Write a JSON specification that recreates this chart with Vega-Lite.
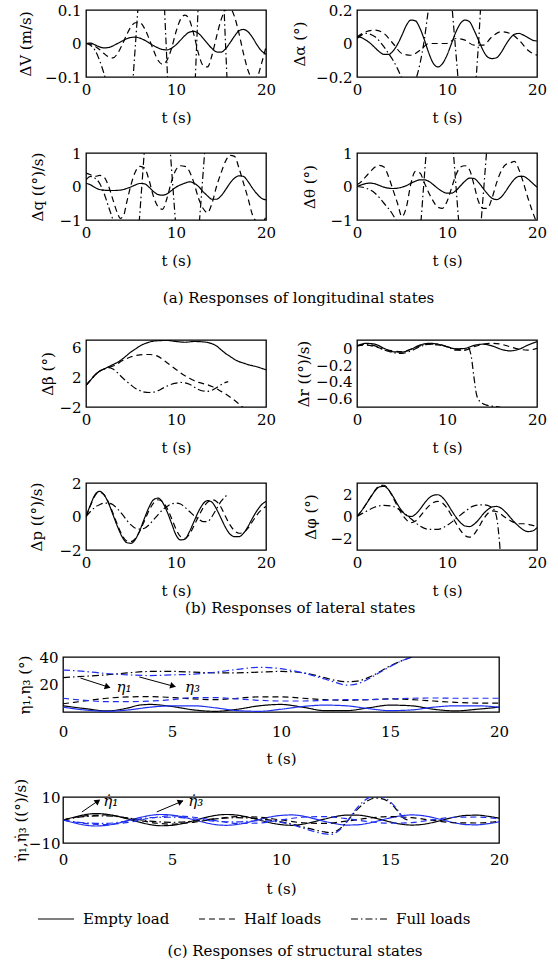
{
"$schema": "https://vega.github.io/schema/vega-lite/v6.json",
"padding": {"left": 12, "top": 2, "right": 0, "bottom": 0},
"background": "white",
"config": {
 "font": "DejaVu Serif",
 "view": {"stroke": "black", "strokeWidth": 1.3},
 "axis": {"grid": false, "domain": false, "ticks": false, "labelFont": "DejaVu Serif", "labelFontSize": 15, "labelColor": "black", "titleFont": "DejaVu Serif", "titleFontSize": 15, "titleFontWeight": "normal", "titleColor": "black", "labelPadding": 5, "format": "~r"},
 "axisX": {"titlePadding": 13, "labelFlush": false},
 "axisY": {"titlePadding": 10},
 "line": {"strokeWidth": 1.2, "interpolate": "monotone"},
 "title": {"font": "DejaVu Serif", "fontSize": 15, "fontWeight": "normal", "color": "black"},
 "legend": {"orient": "none", "legendX": -49, "legendY": 890, "direction": "horizontal", "symbolType": "stroke", "symbolSize": 1300, "symbolStrokeWidth": 1.3, "symbolStrokeColor": "black", "labelFont": "DejaVu Serif", "labelFontSize": 15, "labelColor": "black", "labelOffset": 8, "columnPadding": 26}
},
"datasets": {
"dV": [
{"s":"E","t":0,"v":0},{"s":"E","t":0.5,"v":0.001},{"s":"E","t":1,"v":-0.004},{"s":"E","t":1.5,"v":-0.01},{"s":"E","t":2,"v":-0.013},{"s":"E","t":2.5,"v":-0.012},{"s":"E","t":3,"v":-0.007},{"s":"E","t":3.5,"v":0},{"s":"E","t":4,"v":0.007},{"s":"E","t":4.5,"v":0.014},{"s":"E","t":5,"v":0.018},{"s":"E","t":5.5,"v":0.019},{"s":"E","t":6,"v":0.016},{"s":"E","t":6.5,"v":0.01},{"s":"E","t":7,"v":0.002},{"s":"E","t":7.5,"v":-0.006},{"s":"E","t":8,"v":-0.013},{"s":"E","t":8.5,"v":-0.018},{"s":"E","t":9,"v":-0.019},{"s":"E","t":9.5,"v":-0.014},{"s":"E","t":10,"v":-0.004},{"s":"E","t":10.5,"v":0.01},{"s":"E","t":11,"v":0.024},{"s":"E","t":11.5,"v":0.034},{"s":"E","t":12,"v":0.036},{"s":"E","t":12.5,"v":0.03},{"s":"E","t":13,"v":0.016},{"s":"E","t":13.5,"v":0},{"s":"E","t":14,"v":-0.015},{"s":"E","t":14.5,"v":-0.025},{"s":"E","t":15,"v":-0.026},{"s":"E","t":15.5,"v":-0.016},{"s":"E","t":16,"v":0.002},{"s":"E","t":16.5,"v":0.022},{"s":"E","t":17,"v":0.038},{"s":"E","t":17.5,"v":0.042},{"s":"E","t":18,"v":0.035},{"s":"E","t":18.5,"v":0.018},{"s":"E","t":19,"v":-0.004},{"s":"E","t":19.5,"v":-0.022},{"s":"E","t":20,"v":-0.032},
{"s":"H","t":0,"v":0},{"s":"H","t":0.5,"v":-0.002},{"s":"H","t":1,"v":-0.008},{"s":"H","t":1.5,"v":-0.018},{"s":"H","t":2,"v":-0.03},{"s":"H","t":2.5,"v":-0.04},{"s":"H","t":3,"v":-0.043},{"s":"H","t":3.5,"v":-0.03},{"s":"H","t":4,"v":-0.005},{"s":"H","t":4.5,"v":0.025},{"s":"H","t":5,"v":0.05},{"s":"H","t":5.5,"v":0.062},{"s":"H","t":6,"v":0.062},{"s":"H","t":6.5,"v":0.045},{"s":"H","t":7,"v":0.015},{"s":"H","t":7.5,"v":-0.02},{"s":"H","t":8,"v":-0.05},{"s":"H","t":8.5,"v":-0.062},{"s":"H","t":9,"v":-0.05},{"s":"H","t":9.5,"v":-0.015},{"s":"H","t":10,"v":0.035},{"s":"H","t":10.5,"v":0.072},{"s":"H","t":11,"v":0.085},{"s":"H","t":11.5,"v":0.07},{"s":"H","t":12,"v":0.025},{"s":"H","t":12.5,"v":-0.03},{"s":"H","t":13,"v":-0.065},{"s":"H","t":13.5,"v":-0.07},{"s":"H","t":14,"v":-0.035},{"s":"H","t":14.5,"v":0.02},{"s":"H","t":15,"v":0.07},{"s":"H","t":15.5,"v":0.1},{"s":"H","t":16,"v":0.105},{"s":"H","t":16.5,"v":0.08},{"s":"H","t":17,"v":0.03},{"s":"H","t":17.5,"v":-0.03},{"s":"H","t":18,"v":-0.08},{"s":"H","t":18.5,"v":-0.105},{"s":"H","t":19,"v":-0.1},{"s":"H","t":19.5,"v":-0.06},{"s":"H","t":20,"v":-0.01},
{"s":"F","t":0,"v":0},{"s":"F","t":0.5,"v":-0.005},{"s":"F","t":1,"v":-0.02},{"s":"F","t":1.5,"v":-0.05},{"s":"F","t":2,"v":-0.09},{"s":"F","t":2.5,"v":-0.14},{"s":"F","t":3,"v":-0.2},{"s":"F","t":4,"v":-0.3},{"s":"F","t":4.6,"v":-0.3},{"s":"F","t":5.1,"v":-0.15},{"s":"F","t":5.5,"v":0},{"s":"F","t":5.9,"v":0.15},{"s":"F","t":6.5,"v":0.3},{"s":"F","t":7.5,"v":0.35},{"s":"F","t":8.4,"v":0.25},{"s":"F","t":8.9,"v":0},{"s":"F","t":9.3,"v":-0.25},{"s":"F","t":10,"v":-0.4},{"s":"F","t":11,"v":-0.45},{"s":"F","t":11.9,"v":-0.25},{"s":"F","t":12.3,"v":0},{"s":"F","t":12.6,"v":0.2},{"s":"F","t":13.5,"v":0.45},{"s":"F","t":14.5,"v":0.45},{"s":"F","t":15.1,"v":0.25},{"s":"F","t":15.5,"v":0},{"s":"F","t":15.9,"v":-0.25},{"s":"F","t":16.5,"v":-0.6}
],
"da": [
{"s":"E","t":0,"v":0.04},{"s":"E","t":0.5,"v":0.035},{"s":"E","t":1,"v":0.02},{"s":"E","t":1.5,"v":0},{"s":"E","t":2,"v":-0.025},{"s":"E","t":2.5,"v":-0.05},{"s":"E","t":3,"v":-0.065},{"s":"E","t":3.5,"v":-0.065},{"s":"E","t":4,"v":-0.045},{"s":"E","t":4.5,"v":-0.005},{"s":"E","t":5,"v":0.05},{"s":"E","t":5.5,"v":0.11},{"s":"E","t":6,"v":0.14},{"s":"E","t":6.5,"v":0.135},{"s":"E","t":7,"v":0.09},{"s":"E","t":7.5,"v":0.02},{"s":"E","t":8,"v":-0.06},{"s":"E","t":8.5,"v":-0.12},{"s":"E","t":9,"v":-0.14},{"s":"E","t":9.5,"v":-0.12},{"s":"E","t":10,"v":-0.07},{"s":"E","t":10.5,"v":0},{"s":"E","t":11,"v":0.07},{"s":"E","t":11.5,"v":0.12},{"s":"E","t":12,"v":0.14},{"s":"E","t":12.5,"v":0.13},{"s":"E","t":13,"v":0.08},{"s":"E","t":13.5,"v":0.02},{"s":"E","t":14,"v":-0.04},{"s":"E","t":14.5,"v":-0.08},{"s":"E","t":15,"v":-0.09},{"s":"E","t":15.5,"v":-0.085},{"s":"E","t":16,"v":-0.055},{"s":"E","t":16.5,"v":-0.01},{"s":"E","t":17,"v":0.03},{"s":"E","t":17.5,"v":0.055},{"s":"E","t":18,"v":0.06},{"s":"E","t":18.5,"v":0.05},{"s":"E","t":19,"v":0.035},{"s":"E","t":19.5,"v":0.02},{"s":"E","t":20,"v":0.015},
{"s":"H","t":0,"v":0.04},{"s":"H","t":1,"v":0.07},{"s":"H","t":2,"v":0.08},{"s":"H","t":3,"v":0.06},{"s":"H","t":4,"v":0.0},{"s":"H","t":5,"v":-0.06},{"s":"H","t":6,"v":-0.07},{"s":"H","t":7,"v":-0.04},{"s":"H","t":8,"v":0.0},{"s":"H","t":9,"v":0.0},{"s":"H","t":10,"v":0.0},{"s":"H","t":11,"v":0.03},{"s":"H","t":12,"v":0.02},{"s":"H","t":13,"v":-0.01},{"s":"H","t":14,"v":-0.01},{"s":"H","t":15,"v":0.04},{"s":"H","t":16,"v":0.07},{"s":"H","t":17,"v":0.06},{"s":"H","t":18,"v":0.02},{"s":"H","t":19,"v":-0.04},{"s":"H","t":20,"v":-0.07},
{"s":"F","t":0,"v":0.03},{"s":"F","t":1,"v":0.06},{"s":"F","t":2,"v":0.04},{"s":"F","t":3,"v":-0.02},{"s":"F","t":3.5,"v":-0.06},{"s":"F","t":4,"v":-0.1},{"s":"F","t":4.5,"v":-0.15},{"s":"F","t":5,"v":-0.21},{"s":"F","t":5.5,"v":-0.27},{"s":"F","t":6,"v":-0.28},{"s":"F","t":6.5,"v":-0.22},{"s":"F","t":7,"v":-0.12},{"s":"F","t":7.5,"v":0.03},{"s":"F","t":7.8,"v":0.15},{"s":"F","t":8.2,"v":0.3},{"s":"F","t":9.5,"v":0.5},{"s":"F","t":10.4,"v":0.3},{"s":"F","t":10.9,"v":0},{"s":"F","t":11.4,"v":-0.3},{"s":"F","t":12.3,"v":-0.5},{"s":"F","t":13,"v":-0.35},{"s":"F","t":13.5,"v":0},{"s":"F","t":13.9,"v":0.35},{"s":"F","t":15,"v":0.7},{"s":"F","t":16,"v":0.8}
],
"dq": [
{"s":"E","t":0,"v":0.1},{"s":"E","t":0.5,"v":0.05},{"s":"E","t":1,"v":-0.03},{"s":"E","t":1.5,"v":-0.09},{"s":"E","t":2,"v":-0.11},{"s":"E","t":3,"v":-0.12},{"s":"E","t":4,"v":-0.1},{"s":"E","t":4.5,"v":-0.06},{"s":"E","t":5,"v":-0.01},{"s":"E","t":5.5,"v":0.05},{"s":"E","t":6,"v":0.09},{"s":"E","t":6.5,"v":0.08},{"s":"E","t":7,"v":-0.02},{"s":"E","t":7.5,"v":-0.15},{"s":"E","t":8,"v":-0.24},{"s":"E","t":8.5,"v":-0.26},{"s":"E","t":9,"v":-0.22},{"s":"E","t":9.5,"v":-0.12},{"s":"E","t":10,"v":-0.02},{"s":"E","t":10.5,"v":0.05},{"s":"E","t":11,"v":0.1},{"s":"E","t":11.5,"v":0.14},{"s":"E","t":12,"v":0.1},{"s":"E","t":12.5,"v":0},{"s":"E","t":13,"v":-0.15},{"s":"E","t":13.5,"v":-0.28},{"s":"E","t":14,"v":-0.38},{"s":"E","t":14.5,"v":-0.38},{"s":"E","t":15,"v":-0.28},{"s":"E","t":15.5,"v":-0.1},{"s":"E","t":16,"v":0.1},{"s":"E","t":16.5,"v":0.25},{"s":"E","t":17,"v":0.32},{"s":"E","t":17.5,"v":0.3},{"s":"E","t":18,"v":0.15},{"s":"E","t":18.5,"v":-0.05},{"s":"E","t":19,"v":-0.22},{"s":"E","t":19.5,"v":-0.35},{"s":"E","t":20,"v":-0.4},
{"s":"H","t":0,"v":0.4},{"s":"H","t":0.5,"v":0.35},{"s":"H","t":1,"v":0.3},{"s":"H","t":1.5,"v":0.33},{"s":"H","t":2,"v":0.28},{"s":"H","t":2.5,"v":0.02},{"s":"H","t":3,"v":-0.4},{"s":"H","t":3.5,"v":-0.8},{"s":"H","t":3.8,"v":-0.95},{"s":"H","t":4.2,"v":-0.85},{"s":"H","t":4.5,"v":-0.5},{"s":"H","t":5,"v":0.05},{"s":"H","t":5.5,"v":0.45},{"s":"H","t":6,"v":0.6},{"s":"H","t":6.5,"v":0.55},{"s":"H","t":7,"v":0.2},{"s":"H","t":7.5,"v":-0.3},{"s":"H","t":8,"v":-0.6},{"s":"H","t":8.5,"v":-0.68},{"s":"H","t":9,"v":-0.35},{"s":"H","t":9.5,"v":0.15},{"s":"H","t":10,"v":0.5},{"s":"H","t":10.5,"v":0.62},{"s":"H","t":11,"v":0.6},{"s":"H","t":11.5,"v":0.45},{"s":"H","t":12,"v":0.1},{"s":"H","t":12.5,"v":-0.35},{"s":"H","t":13,"v":-0.65},{"s":"H","t":13.5,"v":-0.78},{"s":"H","t":14,"v":-0.5},{"s":"H","t":14.5,"v":0},{"s":"H","t":15,"v":0.4},{"s":"H","t":15.5,"v":0.75},{"s":"H","t":16,"v":0.93},{"s":"H","t":16.5,"v":0.9},{"s":"H","t":17,"v":0.55},{"s":"H","t":17.5,"v":0.1},{"s":"H","t":18,"v":-0.35},{"s":"H","t":18.5,"v":-0.85},{"s":"H","t":19,"v":-1.05},{"s":"H","t":19.5,"v":-1.1},{"s":"H","t":20,"v":-0.9},
{"s":"F","t":0,"v":0.2},{"s":"F","t":0.5,"v":0.3},{"s":"F","t":1,"v":0.25},{"s":"F","t":1.5,"v":0.1},{"s":"F","t":2,"v":-0.2},{"s":"F","t":2.5,"v":-0.6},{"s":"F","t":3,"v":-1.0},{"s":"F","t":4,"v":-2},{"s":"F","t":5,"v":-2.5},{"s":"F","t":5.8,"v":-1.4},{"s":"F","t":6.2,"v":0},{"s":"F","t":6.6,"v":1.4},{"s":"F","t":7.5,"v":2.5},{"s":"F","t":8.5,"v":2.5},{"s":"F","t":9.25,"v":1.4},{"s":"F","t":9.65,"v":0},{"s":"F","t":10.05,"v":-1.4},{"s":"F","t":11,"v":-3},{"s":"F","t":12,"v":-3},{"s":"F","t":12.5,"v":-1.4},{"s":"F","t":12.9,"v":0},{"s":"F","t":13.3,"v":1.4},{"s":"F","t":14,"v":3},{"s":"F","t":15,"v":4},{"s":"F","t":16,"v":4}
],
"dth": [
{"s":"E","t":0,"v":0},{"s":"E","t":0.5,"v":0.05},{"s":"E","t":1,"v":0.09},{"s":"E","t":1.5,"v":0.1},{"s":"E","t":2,"v":0.08},{"s":"E","t":2.5,"v":0.03},{"s":"E","t":3,"v":-0.02},{"s":"E","t":3.5,"v":-0.05},{"s":"E","t":4,"v":-0.06},{"s":"E","t":4.5,"v":-0.05},{"s":"E","t":5,"v":-0.02},{"s":"E","t":5.5,"v":0.03},{"s":"E","t":6,"v":0.1},{"s":"E","t":6.5,"v":0.16},{"s":"E","t":7,"v":0.2},{"s":"E","t":7.5,"v":0.2},{"s":"E","t":8,"v":0.15},{"s":"E","t":8.5,"v":0.05},{"s":"E","t":9,"v":-0.06},{"s":"E","t":9.5,"v":-0.15},{"s":"E","t":10,"v":-0.2},{"s":"E","t":10.5,"v":-0.2},{"s":"E","t":11,"v":-0.12},{"s":"E","t":11.5,"v":0.02},{"s":"E","t":12,"v":0.16},{"s":"E","t":12.5,"v":0.25},{"s":"E","t":13,"v":0.24},{"s":"E","t":13.5,"v":0.12},{"s":"E","t":14,"v":-0.05},{"s":"E","t":14.5,"v":-0.22},{"s":"E","t":15,"v":-0.35},{"s":"E","t":15.5,"v":-0.39},{"s":"E","t":16,"v":-0.32},{"s":"E","t":16.5,"v":-0.15},{"s":"E","t":17,"v":0.05},{"s":"E","t":17.5,"v":0.22},{"s":"E","t":18,"v":0.3},{"s":"E","t":18.5,"v":0.3},{"s":"E","t":19,"v":0.22},{"s":"E","t":19.5,"v":0.1},{"s":"E","t":20,"v":-0.02},
{"s":"H","t":0,"v":0.05},{"s":"H","t":0.5,"v":0.15},{"s":"H","t":1,"v":0.3},{"s":"H","t":1.5,"v":0.45},{"s":"H","t":2,"v":0.58},{"s":"H","t":2.5,"v":0.63},{"s":"H","t":3,"v":0.58},{"s":"H","t":3.5,"v":0.3},{"s":"H","t":4,"v":-0.1},{"s":"H","t":4.5,"v":-0.5},{"s":"H","t":5,"v":-0.9},{"s":"H","t":5.5,"v":-0.6},{"s":"H","t":6,"v":0.1},{"s":"H","t":6.5,"v":0.45},{"s":"H","t":7,"v":0.4},{"s":"H","t":7.5,"v":0.1},{"s":"H","t":8,"v":-0.2},{"s":"H","t":8.5,"v":-0.45},{"s":"H","t":9,"v":-0.62},{"s":"H","t":9.5,"v":-0.65},{"s":"H","t":10,"v":-0.45},{"s":"H","t":10.5,"v":-0.05},{"s":"H","t":11,"v":0.35},{"s":"H","t":11.5,"v":0.58},{"s":"H","t":12,"v":0.62},{"s":"H","t":12.5,"v":0.5},{"s":"H","t":13,"v":0.05},{"s":"H","t":13.5,"v":-0.45},{"s":"H","t":14,"v":-0.65},{"s":"H","t":14.5,"v":-0.65},{"s":"H","t":15,"v":-0.35},{"s":"H","t":15.5,"v":0.1},{"s":"H","t":16,"v":0.45},{"s":"H","t":16.5,"v":0.65},{"s":"H","t":17,"v":0.7},{"s":"H","t":17.5,"v":0.75},{"s":"H","t":18,"v":0.5},{"s":"H","t":18.5,"v":0.1},{"s":"H","t":19,"v":-0.35},{"s":"H","t":19.5,"v":-0.75},{"s":"H","t":20,"v":-1.1},
{"s":"F","t":0,"v":0},{"s":"F","t":1,"v":-0.05},{"s":"F","t":2,"v":-0.2},{"s":"F","t":3,"v":-0.5},{"s":"F","t":4,"v":-0.85},{"s":"F","t":4.5,"v":-1.1},{"s":"F","t":5.5,"v":-2},{"s":"F","t":6.5,"v":-2},{"s":"F","t":7.05,"v":-1.2},{"s":"F","t":7.4,"v":0},{"s":"F","t":7.75,"v":1.2},{"s":"F","t":8.5,"v":2.5},{"s":"F","t":10,"v":2.5},{"s":"F","t":10.65,"v":1.2},{"s":"F","t":11,"v":0},{"s":"F","t":11.35,"v":-1.2},{"s":"F","t":12.5,"v":-3},{"s":"F","t":13.4,"v":-2.5},{"s":"F","t":13.75,"v":-1.2},{"s":"F","t":14.1,"v":0},{"s":"F","t":14.45,"v":1.2},{"s":"F","t":15.5,"v":4},{"s":"F","t":16,"v":4}
],
"db": [
{"s":"E","t":0,"v":0.9},{"s":"E","t":0.5,"v":1.6},{"s":"E","t":1,"v":2.3},{"s":"E","t":1.5,"v":2.8},{"s":"E","t":2,"v":3.1},{"s":"E","t":2.5,"v":3.4},{"s":"E","t":3,"v":3.7},{"s":"E","t":3.5,"v":4.0},{"s":"E","t":4,"v":4.4},{"s":"E","t":4.5,"v":4.9},{"s":"E","t":5,"v":5.4},{"s":"E","t":5.5,"v":5.8},{"s":"E","t":6,"v":6.2},{"s":"E","t":6.5,"v":6.5},{"s":"E","t":7,"v":6.7},{"s":"E","t":7.5,"v":6.85},{"s":"E","t":8,"v":6.9},{"s":"E","t":9,"v":6.95},{"s":"E","t":10,"v":6.8},{"s":"E","t":11,"v":6.7},{"s":"E","t":12,"v":6.8},{"s":"E","t":13,"v":6.75},{"s":"E","t":14,"v":6.5},{"s":"E","t":14.5,"v":6.2},{"s":"E","t":15,"v":5.7},{"s":"E","t":15.5,"v":5.2},{"s":"E","t":16,"v":4.8},{"s":"E","t":16.5,"v":4.4},{"s":"E","t":17,"v":4.1},{"s":"E","t":17.5,"v":3.9},{"s":"E","t":18,"v":3.7},{"s":"E","t":18.5,"v":3.55},{"s":"E","t":19,"v":3.4},{"s":"E","t":19.5,"v":3.2},{"s":"E","t":20,"v":3.0},
{"s":"H","t":0,"v":0.9},{"s":"H","t":0.5,"v":1.6},{"s":"H","t":1,"v":2.3},{"s":"H","t":1.5,"v":2.8},{"s":"H","t":2,"v":3.1},{"s":"H","t":2.5,"v":3.3},{"s":"H","t":3,"v":3.5},{"s":"H","t":3.5,"v":3.8},{"s":"H","t":4,"v":4.2},{"s":"H","t":4.5,"v":4.5},{"s":"H","t":5,"v":4.75},{"s":"H","t":5.5,"v":4.9},{"s":"H","t":6,"v":5.0},{"s":"H","t":6.5,"v":5.05},{"s":"H","t":7,"v":5.05},{"s":"H","t":7.5,"v":5.0},{"s":"H","t":8,"v":4.8},{"s":"H","t":8.5,"v":4.4},{"s":"H","t":9,"v":3.95},{"s":"H","t":9.5,"v":3.5},{"s":"H","t":10,"v":3.05},{"s":"H","t":10.5,"v":2.6},{"s":"H","t":11,"v":2.2},{"s":"H","t":11.5,"v":1.85},{"s":"H","t":12,"v":1.55},{"s":"H","t":12.5,"v":1.3},{"s":"H","t":13,"v":1.15},{"s":"H","t":13.5,"v":1.0},{"s":"H","t":14,"v":0.75},{"s":"H","t":14.5,"v":0.45},{"s":"H","t":15,"v":0.1},{"s":"H","t":15.5,"v":-0.25},{"s":"H","t":16,"v":-0.65},{"s":"H","t":16.5,"v":-1.1},{"s":"H","t":17,"v":-1.6},{"s":"H","t":17.5,"v":-2.1},{"s":"H","t":18,"v":-2.6},
{"s":"F","t":0,"v":0.9},{"s":"F","t":0.5,"v":1.6},{"s":"F","t":1,"v":2.3},{"s":"F","t":1.5,"v":2.8},{"s":"F","t":2,"v":3.1},{"s":"F","t":2.5,"v":3.3},{"s":"F","t":3,"v":3.1},{"s":"F","t":3.5,"v":2.6},{"s":"F","t":4,"v":2.0},{"s":"F","t":4.5,"v":1.45},{"s":"F","t":5,"v":0.95},{"s":"F","t":5.5,"v":0.5},{"s":"F","t":6,"v":0.2},{"s":"F","t":6.5,"v":0},{"s":"F","t":7,"v":-0.05},{"s":"F","t":7.5,"v":0},{"s":"F","t":8,"v":0.2},{"s":"F","t":8.5,"v":0.5},{"s":"F","t":9,"v":0.8},{"s":"F","t":9.5,"v":1.05},{"s":"F","t":10,"v":1.2},{"s":"F","t":10.5,"v":1.3},{"s":"F","t":11,"v":1.25},{"s":"F","t":11.5,"v":1.05},{"s":"F","t":12,"v":0.7},{"s":"F","t":12.5,"v":0.35},{"s":"F","t":13,"v":0.15},{"s":"F","t":13.5,"v":0.1},{"s":"F","t":14,"v":0.25},{"s":"F","t":14.5,"v":0.6},{"s":"F","t":15,"v":1.0},{"s":"F","t":15.5,"v":1.3},{"s":"F","t":15.8,"v":1.4}
],
"dr": [
{"s":"E","t":0,"v":0.03},{"s":"E","t":1,"v":0.06},{"s":"E","t":2,"v":0.05},{"s":"E","t":3,"v":0.0},{"s":"E","t":4,"v":-0.04},{"s":"E","t":5,"v":-0.045},{"s":"E","t":6,"v":-0.01},{"s":"E","t":7,"v":0.04},{"s":"E","t":8,"v":0.06},{"s":"E","t":9,"v":0.05},{"s":"E","t":10,"v":0.02},{"s":"E","t":11,"v":-0.005},{"s":"E","t":12,"v":0.0},{"s":"E","t":13,"v":0.035},{"s":"E","t":14,"v":0.05},{"s":"E","t":15,"v":0.03},{"s":"E","t":16,"v":-0.01},{"s":"E","t":17,"v":-0.03},{"s":"E","t":18,"v":-0.01},{"s":"E","t":19,"v":0.04},{"s":"E","t":20,"v":0.08},
{"s":"H","t":0,"v":0.03},{"s":"H","t":1,"v":0.04},{"s":"H","t":2,"v":0.02},{"s":"H","t":3,"v":-0.01},{"s":"H","t":4,"v":-0.03},{"s":"H","t":5,"v":-0.04},{"s":"H","t":6,"v":-0.01},{"s":"H","t":7,"v":0.03},{"s":"H","t":8,"v":0.05},{"s":"H","t":9,"v":0.04},{"s":"H","t":10,"v":0.02},{"s":"H","t":11,"v":-0.01},{"s":"H","t":12,"v":-0.02},{"s":"H","t":13,"v":0.02},{"s":"H","t":14,"v":0.05},{"s":"H","t":15,"v":0.06},{"s":"H","t":16,"v":0.05},{"s":"H","t":17,"v":0.02},{"s":"H","t":18,"v":-0.01},{"s":"H","t":19,"v":-0.02},{"s":"H","t":20,"v":0.0},
{"s":"F","t":0,"v":0.03},{"s":"F","t":1,"v":0.05},{"s":"F","t":2,"v":0.03},{"s":"F","t":3,"v":-0.02},{"s":"F","t":4,"v":-0.05},{"s":"F","t":5,"v":-0.06},{"s":"F","t":6,"v":-0.03},{"s":"F","t":7,"v":0.02},{"s":"F","t":8,"v":0.05},{"s":"F","t":9,"v":0.05},{"s":"F","t":10,"v":0.02},{"s":"F","t":11,"v":-0.02},{"s":"F","t":12,"v":-0.02},{"s":"F","t":12.4,"v":0.0},{"s":"F","t":12.7,"v":-0.1},{"s":"F","t":13,"v":-0.35},{"s":"F","t":13.3,"v":-0.56},{"s":"F","t":13.7,"v":-0.64},{"s":"F","t":14.2,"v":-0.67},{"s":"F","t":15,"v":-0.69},{"s":"F","t":15.9,"v":-0.7}
],
"dp": [
{"s":"E","t":0,"v":0},{"s":"E","t":0.5,"v":0.7},{"s":"E","t":1,"v":1.3},{"s":"E","t":1.5,"v":1.5},{"s":"E","t":2,"v":1.3},{"s":"E","t":2.5,"v":0.8},{"s":"E","t":3,"v":0.1},{"s":"E","t":3.5,"v":-0.6},{"s":"E","t":4,"v":-1.2},{"s":"E","t":4.5,"v":-1.55},{"s":"E","t":5,"v":-1.6},{"s":"E","t":5.5,"v":-1.35},{"s":"E","t":6,"v":-0.8},{"s":"E","t":6.5,"v":-0.1},{"s":"E","t":7,"v":0.55},{"s":"E","t":7.5,"v":1.0},{"s":"E","t":8,"v":1.1},{"s":"E","t":8.5,"v":0.85},{"s":"E","t":9,"v":0.3},{"s":"E","t":9.5,"v":-0.4},{"s":"E","t":10,"v":-1.1},{"s":"E","t":10.5,"v":-1.4},{"s":"E","t":11,"v":-1.35},{"s":"E","t":11.5,"v":-0.9},{"s":"E","t":12,"v":-0.3},{"s":"E","t":12.5,"v":0.3},{"s":"E","t":13,"v":0.75},{"s":"E","t":13.5,"v":0.95},{"s":"E","t":14,"v":0.85},{"s":"E","t":14.5,"v":0.45},{"s":"E","t":15,"v":-0.1},{"s":"E","t":15.5,"v":-0.65},{"s":"E","t":16,"v":-1.05},{"s":"E","t":16.5,"v":-1.2},{"s":"E","t":17,"v":-1.2},{"s":"E","t":17.5,"v":-1.0},{"s":"E","t":18,"v":-0.6},{"s":"E","t":18.5,"v":-0.1},{"s":"E","t":19,"v":0.35},{"s":"E","t":19.5,"v":0.7},{"s":"E","t":20,"v":0.9},
{"s":"H","t":0,"v":0},{"s":"H","t":0.5,"v":0.65},{"s":"H","t":1,"v":1.25},{"s":"H","t":1.5,"v":1.45},{"s":"H","t":2,"v":1.3},{"s":"H","t":2.5,"v":0.85},{"s":"H","t":3,"v":0.2},{"s":"H","t":3.5,"v":-0.5},{"s":"H","t":4,"v":-1.1},{"s":"H","t":4.5,"v":-1.45},{"s":"H","t":5,"v":-1.5},{"s":"H","t":5.5,"v":-1.3},{"s":"H","t":6,"v":-0.85},{"s":"H","t":6.5,"v":-0.25},{"s":"H","t":7,"v":0.35},{"s":"H","t":7.5,"v":0.8},{"s":"H","t":8,"v":1.0},{"s":"H","t":8.5,"v":0.9},{"s":"H","t":9,"v":0.5},{"s":"H","t":9.5,"v":-0.1},{"s":"H","t":10,"v":-0.75},{"s":"H","t":10.5,"v":-1.2},{"s":"H","t":11,"v":-1.3},{"s":"H","t":11.5,"v":-1.05},{"s":"H","t":12,"v":-0.55},{"s":"H","t":12.5,"v":0},{"s":"H","t":13,"v":0.5},{"s":"H","t":13.5,"v":0.85},{"s":"H","t":14,"v":1.0},{"s":"H","t":14.5,"v":0.9},{"s":"H","t":15,"v":0.55},{"s":"H","t":15.5,"v":0},{"s":"H","t":16,"v":-0.5},{"s":"H","t":16.5,"v":-0.85},{"s":"H","t":17,"v":-1.0},{"s":"H","t":17.5,"v":-0.95},{"s":"H","t":18,"v":-0.7},{"s":"H","t":18.5,"v":-0.3},{"s":"H","t":19,"v":0.1},{"s":"H","t":19.5,"v":0.4},{"s":"H","t":20,"v":0.6},
{"s":"F","t":0,"v":0},{"s":"F","t":0.5,"v":0.3},{"s":"F","t":1,"v":0.55},{"s":"F","t":1.5,"v":0.7},{"s":"F","t":2,"v":0.8},{"s":"F","t":2.5,"v":0.8},{"s":"F","t":3,"v":0.7},{"s":"F","t":3.5,"v":0.45},{"s":"F","t":4,"v":0.15},{"s":"F","t":4.5,"v":-0.2},{"s":"F","t":5,"v":-0.5},{"s":"F","t":5.5,"v":-0.7},{"s":"F","t":6,"v":-0.75},{"s":"F","t":6.5,"v":-0.7},{"s":"F","t":7,"v":-0.5},{"s":"F","t":7.5,"v":-0.2},{"s":"F","t":8,"v":0.1},{"s":"F","t":8.5,"v":0.4},{"s":"F","t":9,"v":0.6},{"s":"F","t":9.5,"v":0.75},{"s":"F","t":10,"v":0.8},{"s":"F","t":10.5,"v":0.75},{"s":"F","t":11,"v":0.55},{"s":"F","t":11.5,"v":0.3},{"s":"F","t":12,"v":0.05},{"s":"F","t":12.5,"v":-0.15},{"s":"F","t":13,"v":-0.3},{"s":"F","t":13.5,"v":-0.3},{"s":"F","t":14,"v":0},{"s":"F","t":14.5,"v":0.45},{"s":"F","t":15,"v":0.9},{"s":"F","t":15.5,"v":1.2},{"s":"F","t":15.7,"v":1.3}
],
"dph": [
{"s":"E","t":0,"v":0},{"s":"E","t":0.5,"v":0.5},{"s":"E","t":1,"v":1.1},{"s":"E","t":1.5,"v":1.7},{"s":"E","t":2,"v":2.3},{"s":"E","t":2.5,"v":2.65},{"s":"E","t":3,"v":2.7},{"s":"E","t":3.5,"v":2.4},{"s":"E","t":4,"v":1.8},{"s":"E","t":4.5,"v":1.1},{"s":"E","t":5,"v":0.5},{"s":"E","t":5.5,"v":0.1},{"s":"E","t":6,"v":0},{"s":"E","t":6.5,"v":0.2},{"s":"E","t":7,"v":0.65},{"s":"E","t":7.5,"v":1.2},{"s":"E","t":8,"v":1.65},{"s":"E","t":8.5,"v":1.9},{"s":"E","t":9,"v":1.95},{"s":"E","t":9.5,"v":1.7},{"s":"E","t":10,"v":1.2},{"s":"E","t":10.5,"v":0.55},{"s":"E","t":11,"v":-0.05},{"s":"E","t":11.5,"v":-0.55},{"s":"E","t":12,"v":-0.85},{"s":"E","t":12.5,"v":-0.9},{"s":"E","t":13,"v":-0.7},{"s":"E","t":13.5,"v":-0.3},{"s":"E","t":14,"v":0.2},{"s":"E","t":14.5,"v":0.6},{"s":"E","t":15,"v":0.85},{"s":"E","t":15.5,"v":0.9},{"s":"E","t":16,"v":0.75},{"s":"E","t":16.5,"v":0.4},{"s":"E","t":17,"v":-0.05},{"s":"E","t":17.5,"v":-0.5},{"s":"E","t":18,"v":-0.9},{"s":"E","t":18.5,"v":-1.2},{"s":"E","t":19,"v":-1.35},{"s":"E","t":19.5,"v":-1.3},{"s":"E","t":20,"v":-1.0},
{"s":"H","t":0,"v":0},{"s":"H","t":0.5,"v":0.5},{"s":"H","t":1,"v":1.1},{"s":"H","t":1.5,"v":1.75},{"s":"H","t":2,"v":2.35},{"s":"H","t":2.5,"v":2.75},{"s":"H","t":3,"v":2.8},{"s":"H","t":3.5,"v":2.4},{"s":"H","t":4,"v":1.7},{"s":"H","t":4.5,"v":0.9},{"s":"H","t":5,"v":0.2},{"s":"H","t":5.5,"v":-0.3},{"s":"H","t":6,"v":-0.55},{"s":"H","t":6.5,"v":-0.4},{"s":"H","t":7,"v":0},{"s":"H","t":7.5,"v":0.5},{"s":"H","t":8,"v":0.95},{"s":"H","t":8.5,"v":1.25},{"s":"H","t":9,"v":1.35},{"s":"H","t":9.5,"v":1.2},{"s":"H","t":10,"v":0.75},{"s":"H","t":10.5,"v":0.1},{"s":"H","t":11,"v":-0.6},{"s":"H","t":11.5,"v":-1.25},{"s":"H","t":12,"v":-1.7},{"s":"H","t":12.5,"v":-1.85},{"s":"H","t":13,"v":-1.6},{"s":"H","t":13.5,"v":-1.0},{"s":"H","t":14,"v":-0.3},{"s":"H","t":14.5,"v":0.25},{"s":"H","t":15,"v":0.5},{"s":"H","t":15.5,"v":0.45},{"s":"H","t":16,"v":0.2},{"s":"H","t":16.5,"v":-0.1},{"s":"H","t":17,"v":-0.35},{"s":"H","t":17.5,"v":-0.55},{"s":"H","t":18,"v":-0.65},{"s":"H","t":18.5,"v":-0.65},{"s":"H","t":19,"v":-0.7},{"s":"H","t":19.5,"v":-0.8},{"s":"H","t":20,"v":-0.85},
{"s":"F","t":0,"v":0},{"s":"F","t":1,"v":0.45},{"s":"F","t":2,"v":0.85},{"s":"F","t":3,"v":1.0},{"s":"F","t":4,"v":0.9},{"s":"F","t":5,"v":0.45},{"s":"F","t":6,"v":-0.2},{"s":"F","t":7,"v":-0.85},{"s":"F","t":8,"v":-1.15},{"s":"F","t":9,"v":-1.15},{"s":"F","t":10,"v":-0.8},{"s":"F","t":11,"v":-0.2},{"s":"F","t":12,"v":0.45},{"s":"F","t":13,"v":0.95},{"s":"F","t":14,"v":1.05},{"s":"F","t":14.8,"v":0.9},{"s":"F","t":15.3,"v":0.5},{"s":"F","t":15.6,"v":-0.5},{"s":"F","t":15.8,"v":-2},{"s":"F","t":16,"v":-4}
],
"eta": [
{"s":"E","m":"1","t":0,"v":4.5},{"s":"E","m":"1","t":1,"v":2.5},{"s":"E","m":"1","t":2,"v":0.8},{"s":"E","m":"1","t":3,"v":3},{"s":"E","m":"1","t":3.5,"v":5},{"s":"E","m":"1","t":4,"v":5.5},{"s":"E","m":"1","t":5,"v":4},{"s":"E","m":"1","t":6,"v":1.5},{"s":"E","m":"1","t":7,"v":0.5},{"s":"E","m":"1","t":8,"v":2},{"s":"E","m":"1","t":9,"v":4.5},{"s":"E","m":"1","t":10,"v":5.5},{"s":"E","m":"1","t":11,"v":3.5},{"s":"E","m":"1","t":12,"v":1},{"s":"E","m":"1","t":13,"v":1},{"s":"E","m":"1","t":14,"v":3},{"s":"E","m":"1","t":15,"v":5},{"s":"E","m":"1","t":16,"v":4.5},{"s":"E","m":"1","t":17,"v":2},{"s":"E","m":"1","t":18,"v":0.8},{"s":"E","m":"1","t":19,"v":2},{"s":"E","m":"1","t":20,"v":3.5},
{"s":"E","m":"3","t":0,"v":3.5},{"s":"E","m":"3","t":1,"v":1.5},{"s":"E","m":"3","t":2,"v":0.5},{"s":"E","m":"3","t":3,"v":1.5},{"s":"E","m":"3","t":4,"v":3.5},{"s":"E","m":"3","t":5,"v":4.5},{"s":"E","m":"3","t":6,"v":4.5},{"s":"E","m":"3","t":7,"v":3},{"s":"E","m":"3","t":8,"v":1},{"s":"E","m":"3","t":9,"v":0.5},{"s":"E","m":"3","t":10,"v":2},{"s":"E","m":"3","t":11,"v":4},{"s":"E","m":"3","t":12,"v":5},{"s":"E","m":"3","t":13,"v":4.5},{"s":"E","m":"3","t":14,"v":2.5},{"s":"E","m":"3","t":15,"v":1},{"s":"E","m":"3","t":16,"v":1.5},{"s":"E","m":"3","t":17,"v":3.5},{"s":"E","m":"3","t":18,"v":4.5},{"s":"E","m":"3","t":19,"v":4.5},{"s":"E","m":"3","t":20,"v":3.5},
{"s":"H","m":"1","t":0,"v":6},{"s":"H","m":"1","t":1,"v":8},{"s":"H","m":"1","t":2,"v":10},{"s":"H","m":"1","t":3,"v":11},{"s":"H","m":"1","t":4,"v":11.2},{"s":"H","m":"1","t":5,"v":10.5},{"s":"H","m":"1","t":6,"v":9.5},{"s":"H","m":"1","t":7,"v":9},{"s":"H","m":"1","t":8,"v":10},{"s":"H","m":"1","t":9,"v":11},{"s":"H","m":"1","t":10,"v":11},{"s":"H","m":"1","t":11,"v":10},{"s":"H","m":"1","t":12,"v":9},{"s":"H","m":"1","t":13,"v":8.5},{"s":"H","m":"1","t":14,"v":9},{"s":"H","m":"1","t":15,"v":9.5},{"s":"H","m":"1","t":16,"v":9},{"s":"H","m":"1","t":17,"v":8},{"s":"H","m":"1","t":18,"v":7},{"s":"H","m":"1","t":19,"v":6.5},{"s":"H","m":"1","t":20,"v":6.5},
{"s":"H","m":"3","t":0,"v":10},{"s":"H","m":"3","t":1,"v":8.5},{"s":"H","m":"3","t":2,"v":7.5},{"s":"H","m":"3","t":3,"v":7.5},{"s":"H","m":"3","t":4,"v":8},{"s":"H","m":"3","t":5,"v":9},{"s":"H","m":"3","t":6,"v":10.5},{"s":"H","m":"3","t":7,"v":10.5},{"s":"H","m":"3","t":8,"v":9.5},{"s":"H","m":"3","t":9,"v":8.5},{"s":"H","m":"3","t":10,"v":8},{"s":"H","m":"3","t":11,"v":8},{"s":"H","m":"3","t":12,"v":8.5},{"s":"H","m":"3","t":13,"v":9},{"s":"H","m":"3","t":14,"v":9},{"s":"H","m":"3","t":15,"v":9.5},{"s":"H","m":"3","t":16,"v":10},{"s":"H","m":"3","t":17,"v":10.2},{"s":"H","m":"3","t":18,"v":10},{"s":"H","m":"3","t":19,"v":10},{"s":"H","m":"3","t":20,"v":10},
{"s":"F","m":"1","t":0,"v":25},{"s":"F","m":"1","t":1,"v":26},{"s":"F","m":"1","t":2,"v":27},{"s":"F","m":"1","t":3,"v":28.5},{"s":"F","m":"1","t":4,"v":29.5},{"s":"F","m":"1","t":5,"v":29.5},{"s":"F","m":"1","t":6,"v":29},{"s":"F","m":"1","t":7,"v":28.5},{"s":"F","m":"1","t":8,"v":28.5},{"s":"F","m":"1","t":9,"v":29},{"s":"F","m":"1","t":10,"v":29.5},{"s":"F","m":"1","t":11,"v":28.5},{"s":"F","m":"1","t":12,"v":25},{"s":"F","m":"1","t":12.5,"v":23},{"s":"F","m":"1","t":13,"v":22},{"s":"F","m":"1","t":13.5,"v":22.5},{"s":"F","m":"1","t":14,"v":25},{"s":"F","m":"1","t":14.5,"v":29},{"s":"F","m":"1","t":15,"v":33.5},{"s":"F","m":"1","t":15.5,"v":37},{"s":"F","m":"1","t":16,"v":40},{"s":"F","m":"1","t":16.3,"v":42},
{"s":"F","m":"3","t":0,"v":30.5},{"s":"F","m":"3","t":1,"v":29.5},{"s":"F","m":"3","t":2,"v":28},{"s":"F","m":"3","t":3,"v":27},{"s":"F","m":"3","t":4,"v":26.5},{"s":"F","m":"3","t":5,"v":27},{"s":"F","m":"3","t":6,"v":27.5},{"s":"F","m":"3","t":7,"v":29},{"s":"F","m":"3","t":8,"v":31},{"s":"F","m":"3","t":9,"v":32.5},{"s":"F","m":"3","t":10,"v":31.5},{"s":"F","m":"3","t":11,"v":28.5},{"s":"F","m":"3","t":12,"v":24},{"s":"F","m":"3","t":12.5,"v":21.5},{"s":"F","m":"3","t":13,"v":19.5},{"s":"F","m":"3","t":13.5,"v":20.5},{"s":"F","m":"3","t":14,"v":24},{"s":"F","m":"3","t":14.5,"v":28.5},{"s":"F","m":"3","t":15,"v":33},{"s":"F","m":"3","t":15.5,"v":37},{"s":"F","m":"3","t":16,"v":40},{"s":"F","m":"3","t":16.3,"v":42}
],
"etad": [
{"s":"E","m":"1","t":0,"v":0},{"s":"E","m":"1","t":0.5,"v":1.2},{"s":"E","m":"1","t":1,"v":2.3},{"s":"E","m":"1","t":1.5,"v":2.8},{"s":"E","m":"1","t":2,"v":2.5},{"s":"E","m":"1","t":2.5,"v":1.6},{"s":"E","m":"1","t":3,"v":0.4},{"s":"E","m":"1","t":3.5,"v":-0.9},{"s":"E","m":"1","t":4,"v":-2},{"s":"E","m":"1","t":4.5,"v":-2.5},{"s":"E","m":"1","t":5,"v":-2.3},{"s":"E","m":"1","t":5.5,"v":-1.5},{"s":"E","m":"1","t":6,"v":-0.3},{"s":"E","m":"1","t":6.5,"v":1},{"s":"E","m":"1","t":7,"v":2},{"s":"E","m":"1","t":7.5,"v":2.4},{"s":"E","m":"1","t":8,"v":2.1},{"s":"E","m":"1","t":8.5,"v":1.2},{"s":"E","m":"1","t":9,"v":0},{"s":"E","m":"1","t":9.5,"v":-1.2},{"s":"E","m":"1","t":10,"v":-2},{"s":"E","m":"1","t":10.5,"v":-2.3},{"s":"E","m":"1","t":11,"v":-1.8},{"s":"E","m":"1","t":11.5,"v":-0.8},{"s":"E","m":"1","t":12,"v":0.4},{"s":"E","m":"1","t":12.5,"v":1.5},{"s":"E","m":"1","t":13,"v":2.1},{"s":"E","m":"1","t":13.5,"v":2.1},{"s":"E","m":"1","t":14,"v":1.5},{"s":"E","m":"1","t":14.5,"v":0.4},{"s":"E","m":"1","t":15,"v":-0.8},{"s":"E","m":"1","t":15.5,"v":-1.8},{"s":"E","m":"1","t":16,"v":-2.2},{"s":"E","m":"1","t":16.5,"v":-1.9},{"s":"E","m":"1","t":17,"v":-1},{"s":"E","m":"1","t":17.5,"v":0.2},{"s":"E","m":"1","t":18,"v":1.3},{"s":"E","m":"1","t":18.5,"v":2},{"s":"E","m":"1","t":19,"v":2.1},{"s":"E","m":"1","t":19.5,"v":1.6},{"s":"E","m":"1","t":20,"v":0.8},
{"s":"E","m":"3","t":0,"v":0},{"s":"E","m":"3","t":0.5,"v":-1.2},{"s":"E","m":"3","t":1,"v":-2.2},{"s":"E","m":"3","t":1.5,"v":-2.6},{"s":"E","m":"3","t":2,"v":-2.3},{"s":"E","m":"3","t":2.5,"v":-1.4},{"s":"E","m":"3","t":3,"v":-0.2},{"s":"E","m":"3","t":3.5,"v":1},{"s":"E","m":"3","t":4,"v":2},{"s":"E","m":"3","t":4.5,"v":2.4},{"s":"E","m":"3","t":5,"v":2.1},{"s":"E","m":"3","t":5.5,"v":1.3},{"s":"E","m":"3","t":6,"v":0.1},{"s":"E","m":"3","t":6.5,"v":-1.1},{"s":"E","m":"3","t":7,"v":-2},{"s":"E","m":"3","t":7.5,"v":-2.3},{"s":"E","m":"3","t":8,"v":-1.9},{"s":"E","m":"3","t":8.5,"v":-1},{"s":"E","m":"3","t":9,"v":0.2},{"s":"E","m":"3","t":9.5,"v":1.3},{"s":"E","m":"3","t":10,"v":2},{"s":"E","m":"3","t":10.5,"v":2.2},{"s":"E","m":"3","t":11,"v":1.7},{"s":"E","m":"3","t":11.5,"v":0.6},{"s":"E","m":"3","t":12,"v":-0.6},{"s":"E","m":"3","t":12.5,"v":-1.6},{"s":"E","m":"3","t":13,"v":-2.2},{"s":"E","m":"3","t":13.5,"v":-2.1},{"s":"E","m":"3","t":14,"v":-1.4},{"s":"E","m":"3","t":14.5,"v":-0.3},{"s":"E","m":"3","t":15,"v":0.9},{"s":"E","m":"3","t":15.5,"v":1.8},{"s":"E","m":"3","t":16,"v":2.2},{"s":"E","m":"3","t":16.5,"v":1.9},{"s":"E","m":"3","t":17,"v":1},{"s":"E","m":"3","t":17.5,"v":-0.2},{"s":"E","m":"3","t":18,"v":-1.3},{"s":"E","m":"3","t":18.5,"v":-2},{"s":"E","m":"3","t":19,"v":-2.1},{"s":"E","m":"3","t":19.5,"v":-1.6},{"s":"E","m":"3","t":20,"v":-0.8},
{"s":"H","m":"1","t":0,"v":0},{"s":"H","m":"1","t":1,"v":1.8},{"s":"H","m":"1","t":2,"v":2.2},{"s":"H","m":"1","t":3,"v":0.8},{"s":"H","m":"1","t":4,"v":-1},{"s":"H","m":"1","t":5,"v":-1.8},{"s":"H","m":"1","t":6,"v":-1},{"s":"H","m":"1","t":7,"v":0.5},{"s":"H","m":"1","t":8,"v":1.5},{"s":"H","m":"1","t":9,"v":1.2},{"s":"H","m":"1","t":10,"v":0},{"s":"H","m":"1","t":11,"v":-1.2},{"s":"H","m":"1","t":12,"v":-1.5},{"s":"H","m":"1","t":13,"v":-0.5},{"s":"H","m":"1","t":14,"v":0.8},{"s":"H","m":"1","t":15,"v":1.5},{"s":"H","m":"1","t":16,"v":1},{"s":"H","m":"1","t":17,"v":-0.2},{"s":"H","m":"1","t":18,"v":-1.2},{"s":"H","m":"1","t":19,"v":-1.3},{"s":"H","m":"1","t":20,"v":-0.5},
{"s":"H","m":"3","t":0,"v":0},{"s":"H","m":"3","t":1,"v":-1.5},{"s":"H","m":"3","t":2,"v":-2},{"s":"H","m":"3","t":3,"v":-1},{"s":"H","m":"3","t":4,"v":0.8},{"s":"H","m":"3","t":5,"v":1.8},{"s":"H","m":"3","t":6,"v":1.2},{"s":"H","m":"3","t":7,"v":-0.3},{"s":"H","m":"3","t":8,"v":-1.5},{"s":"H","m":"3","t":9,"v":-1.3},{"s":"H","m":"3","t":10,"v":0},{"s":"H","m":"3","t":11,"v":1.2},{"s":"H","m":"3","t":12,"v":1.5},{"s":"H","m":"3","t":13,"v":0.6},{"s":"H","m":"3","t":14,"v":-0.7},{"s":"H","m":"3","t":15,"v":-1.4},{"s":"H","m":"3","t":16,"v":-1.1},{"s":"H","m":"3","t":17,"v":0.2},{"s":"H","m":"3","t":18,"v":1.2},{"s":"H","m":"3","t":19,"v":1.3},{"s":"H","m":"3","t":20,"v":0.5},
{"s":"F","m":"1","t":0,"v":0},{"s":"F","m":"1","t":1,"v":1.5},{"s":"F","m":"1","t":2,"v":1.8},{"s":"F","m":"1","t":3,"v":0.8},{"s":"F","m":"1","t":4,"v":-0.5},{"s":"F","m":"1","t":5,"v":-1},{"s":"F","m":"1","t":6,"v":-0.5},{"s":"F","m":"1","t":7,"v":0.5},{"s":"F","m":"1","t":8,"v":1},{"s":"F","m":"1","t":9,"v":0.5},{"s":"F","m":"1","t":10,"v":-0.8},{"s":"F","m":"1","t":10.5,"v":-1.8},{"s":"F","m":"1","t":11,"v":-3},{"s":"F","m":"1","t":11.5,"v":-4.2},{"s":"F","m":"1","t":12,"v":-5.2},{"s":"F","m":"1","t":12.3,"v":-5.5},{"s":"F","m":"1","t":12.6,"v":-4.5},{"s":"F","m":"1","t":13,"v":-1},{"s":"F","m":"1","t":13.3,"v":2.5},{"s":"F","m":"1","t":13.6,"v":5.5},{"s":"F","m":"1","t":14,"v":8.5},{"s":"F","m":"1","t":14.3,"v":9.5},{"s":"F","m":"1","t":14.6,"v":9.3},{"s":"F","m":"1","t":15,"v":7.5},{"s":"F","m":"1","t":15.3,"v":4.5},{"s":"F","m":"1","t":15.6,"v":1},{"s":"F","m":"1","t":15.8,"v":0},
{"s":"F","m":"3","t":0,"v":0},{"s":"F","m":"3","t":1,"v":-1.2},{"s":"F","m":"3","t":2,"v":-1.5},{"s":"F","m":"3","t":3,"v":-0.3},{"s":"F","m":"3","t":4,"v":1},{"s":"F","m":"3","t":5,"v":1.2},{"s":"F","m":"3","t":6,"v":0.5},{"s":"F","m":"3","t":7,"v":-0.5},{"s":"F","m":"3","t":8,"v":-0.8},{"s":"F","m":"3","t":9,"v":-0.3},{"s":"F","m":"3","t":10,"v":-1},{"s":"F","m":"3","t":10.5,"v":-2},{"s":"F","m":"3","t":11,"v":-3.5},{"s":"F","m":"3","t":11.5,"v":-5},{"s":"F","m":"3","t":12,"v":-6},{"s":"F","m":"3","t":12.3,"v":-6.3},{"s":"F","m":"3","t":12.6,"v":-5},{"s":"F","m":"3","t":13,"v":-1},{"s":"F","m":"3","t":13.3,"v":3},{"s":"F","m":"3","t":13.6,"v":6.5},{"s":"F","m":"3","t":14,"v":9.5},{"s":"F","m":"3","t":14.3,"v":10.5},{"s":"F","m":"3","t":14.6,"v":10.2},{"s":"F","m":"3","t":15,"v":8},{"s":"F","m":"3","t":15.3,"v":5},{"s":"F","m":"3","t":15.6,"v":1.2},{"s":"F","m":"3","t":15.8,"v":0}
]
},
"spacing": 33,
"align": "none",
"vconcat": [
{
 "title": {"text": "(a) Responses of longitudinal states", "orient": "bottom", "offset": 22, "anchor": "middle", "dx": 16},
 "spacing": 19, "align": "none",
 "vconcat": [
  {"hconcat": [
    {"width": 180, "height": 67, "data": {"name": "dV"}, "mark": {"type": "line", "color": "black", "clip": true},
     "encoding": {"x": {"field": "t", "type": "quantitative", "scale": {"domain": [0, 20], "nice": false}, "axis": {"values": [0, 10, 20], "title": "t (s)"}},
      "y": {"field": "v", "type": "quantitative", "scale": {"domain": [-0.1, 0.1], "nice": false, "zero": false}, "axis": {"values": [-0.1, 0, 0.1], "title": "ΔV (m/s)", "titlePadding": 11}},
      "strokeDash": {"field": "s", "type": "nominal", "scale": {"domain": ["E", "H", "F"], "range": [[1, 0], [6, 4], [7, 3, 1.5, 3]]}, "legend": {"title": null, "labelExpr": "{'E': 'Empty load', 'H': 'Half loads', 'F': 'Full loads'}[datum.label]"}}}},
    {"width": 180, "height": 67, "data": {"name": "da"}, "mark": {"type": "line", "color": "black", "clip": true},
     "encoding": {"x": {"field": "t", "type": "quantitative", "scale": {"domain": [0, 20], "nice": false}, "axis": {"values": [0, 10, 20], "title": "t (s)"}},
      "y": {"field": "v", "type": "quantitative", "scale": {"domain": [-0.2, 0.2], "nice": false, "zero": false}, "axis": {"values": [-0.2, 0, 0.2], "title": "Δα (°)", "titlePadding": 8}},
      "strokeDash": {"field": "s", "type": "nominal", "scale": {"domain": ["E", "H", "F"], "range": [[1, 0], [6, 4], [7, 3, 1.5, 3]]}, "legend": {"title": null, "labelExpr": "{'E': 'Empty load', 'H': 'Half loads', 'F': 'Full loads'}[datum.label]"}}}}
   ], "spacing": 91, "bounds": "flush", "align": "none"},
  {"hconcat": [
    {"width": 180, "height": 67, "data": {"name": "dq"}, "mark": {"type": "line", "color": "black", "clip": true},
     "encoding": {"x": {"field": "t", "type": "quantitative", "scale": {"domain": [0, 20], "nice": false}, "axis": {"values": [0, 10, 20], "title": "t (s)"}},
      "y": {"field": "v", "type": "quantitative", "scale": {"domain": [-1, 1], "nice": false, "zero": false}, "axis": {"values": [-1, 0, 1], "title": "Δq ((°)/s)", "titlePadding": 13}},
      "strokeDash": {"field": "s", "type": "nominal", "scale": {"domain": ["E", "H", "F"], "range": [[1, 0], [6, 4], [7, 3, 1.5, 3]]}, "legend": {"title": null, "labelExpr": "{'E': 'Empty load', 'H': 'Half loads', 'F': 'Full loads'}[datum.label]"}}}},
    {"width": 180, "height": 67, "data": {"name": "dth"}, "mark": {"type": "line", "color": "black", "clip": true},
     "encoding": {"x": {"field": "t", "type": "quantitative", "scale": {"domain": [0, 20], "nice": false}, "axis": {"values": [0, 10, 20], "title": "t (s)"}},
      "y": {"field": "v", "type": "quantitative", "scale": {"domain": [-1, 1], "nice": false, "zero": false}, "axis": {"values": [-1, 0, 1], "title": "Δθ (°)", "titlePadding": 12}},
      "strokeDash": {"field": "s", "type": "nominal", "scale": {"domain": ["E", "H", "F"], "range": [[1, 0], [6, 4], [7, 3, 1.5, 3]]}, "legend": {"title": null, "labelExpr": "{'E': 'Empty load', 'H': 'Half loads', 'F': 'Full loads'}[datum.label]"}}}}
   ], "spacing": 91, "bounds": "flush", "align": "none"}
 ]
},
{
 "title": {"text": "(b) Responses of lateral states", "orient": "bottom", "offset": 2, "anchor": "middle", "dx": 12},
 "spacing": 19, "align": "none",
 "vconcat": [
  {"hconcat": [
    {"width": 180, "height": 67, "data": {"name": "db"}, "mark": {"type": "line", "color": "black", "clip": true},
     "encoding": {"x": {"field": "t", "type": "quantitative", "scale": {"domain": [0, 20], "nice": false}, "axis": {"values": [0, 10, 20], "title": "t (s)"}},
      "y": {"field": "v", "type": "quantitative", "scale": {"domain": [-2, 7], "nice": false, "zero": false}, "axis": {"values": [-2, 2, 6], "title": "Δβ (°)", "titlePadding": 3}},
      "strokeDash": {"field": "s", "type": "nominal", "scale": {"domain": ["E", "H", "F"], "range": [[1, 0], [6, 4], [7, 3, 1.5, 3]]}, "legend": {"title": null, "labelExpr": "{'E': 'Empty load', 'H': 'Half loads', 'F': 'Full loads'}[datum.label]"}}}},
    {"width": 180, "height": 67, "data": {"name": "dr"}, "mark": {"type": "line", "color": "black", "clip": true},
     "encoding": {"x": {"field": "t", "type": "quantitative", "scale": {"domain": [0, 20], "nice": false}, "axis": {"values": [0, 10, 20], "title": "t (s)"}},
      "y": {"field": "v", "type": "quantitative", "scale": {"domain": [-0.7, 0.1], "nice": false, "zero": false}, "axis": {"values": [-0.6, -0.4, -0.2, 0], "title": "Δr ((°)/s)", "titlePadding": 4}},
      "strokeDash": {"field": "s", "type": "nominal", "scale": {"domain": ["E", "H", "F"], "range": [[1, 0], [6, 4], [7, 3, 1.5, 3]]}, "legend": {"title": null, "labelExpr": "{'E': 'Empty load', 'H': 'Half loads', 'F': 'Full loads'}[datum.label]"}}}}
   ], "spacing": 91, "bounds": "flush", "align": "none"},
  {"hconcat": [
    {"width": 180, "height": 67, "data": {"name": "dp"}, "mark": {"type": "line", "color": "black", "clip": true},
     "encoding": {"x": {"field": "t", "type": "quantitative", "scale": {"domain": [0, 20], "nice": false}, "axis": {"values": [0, 10, 20], "title": "t (s)"}},
      "y": {"field": "v", "type": "quantitative", "scale": {"domain": [-2, 2], "nice": false, "zero": false}, "axis": {"values": [-2, 0, 2], "title": "Δp ((°)/s)", "titlePadding": 14}},
      "strokeDash": {"field": "s", "type": "nominal", "scale": {"domain": ["E", "H", "F"], "range": [[1, 0], [6, 4], [7, 3, 1.5, 3]]}, "legend": {"title": null, "labelExpr": "{'E': 'Empty load', 'H': 'Half loads', 'F': 'Full loads'}[datum.label]"}}}},
    {"width": 180, "height": 67, "data": {"name": "dph"}, "mark": {"type": "line", "color": "black", "clip": true},
     "encoding": {"x": {"field": "t", "type": "quantitative", "scale": {"domain": [0, 20], "nice": false}, "axis": {"values": [0, 10, 20], "title": "t (s)"}},
      "y": {"field": "v", "type": "quantitative", "scale": {"domain": [-3, 3], "nice": false, "zero": false}, "axis": {"values": [-2, 0, 2], "title": "Δφ (°)", "titlePadding": 11}},
      "strokeDash": {"field": "s", "type": "nominal", "scale": {"domain": ["E", "H", "F"], "range": [[1, 0], [6, 4], [7, 3, 1.5, 3]]}, "legend": {"title": null, "labelExpr": "{'E': 'Empty load', 'H': 'Half loads', 'F': 'Full loads'}[datum.label]"}}}}
   ], "spacing": 91, "bounds": "flush", "align": "none"}
 ]
},
{
 "title": {"text": "(c) Responses of structural states", "orient": "bottom", "offset": 47, "anchor": "middle", "dx": 34},
 "spacing": 10, "align": "none",
 "vconcat": [
  {"hconcat": [
    {"width": 1, "height": 1, "data": {"values": []}, "mark": "point", "view": {"stroke": null}},
    {"width": 436, "height": 55,
     "layer": [
      {"data": {"name": "eta"}, "mark": {"type": "line", "clip": true},
       "encoding": {"x": {"field": "t", "type": "quantitative", "scale": {"domain": [0, 20], "nice": false}, "axis": {"values": [0, 5, 10, 15, 20], "title": "t (s)", "labelPadding": 12, "titlePadding": 12}},
        "y": {"field": "v", "type": "quantitative", "scale": {"domain": [0, 40], "nice": false, "zero": false}, "axis": {"values": [20, 40], "title": "η₁,η₃ (°)", "titlePadding": 6}},
        "color": {"field": "m", "type": "nominal", "scale": {"domain": ["1", "3"], "range": ["#000000", "#1f2ff0"]}, "legend": null},
        "strokeDash": {"field": "s", "type": "nominal", "scale": {"domain": ["E", "H", "F"], "range": [[1, 0], [6, 4], [7, 3, 1.5, 3]]}, "legend": {"title": null, "labelExpr": "{'E': 'Empty load', 'H': 'Half loads', 'F': 'Full loads'}[datum.label]"}}}},
      {"data": {"values": [{"t": 0.8, "v": 24.7, "t2": 2.15, "v2": 17.8}, {"t": 3.5, "v": 25.5, "t2": 5.15, "v2": 18.4}]}, "mark": {"type": "rule", "color": "black", "strokeWidth": 1},
       "encoding": {"x": {"field": "t", "type": "quantitative"}, "y": {"field": "v", "type": "quantitative"}, "x2": {"field": "t2"}, "y2": {"field": "v2"}}},
      {"data": {"values": [{"t": 2.05, "v": 18.3}]}, "mark": {"type": "point", "shape": "triangle-right", "angle": 18, "filled": true, "color": "black", "opacity": 1, "size": 45},
       "encoding": {"x": {"field": "t", "type": "quantitative"}, "y": {"field": "v", "type": "quantitative"}}},
      {"data": {"values": [{"t": 5.05, "v": 18.9}]}, "mark": {"type": "point", "shape": "triangle-right", "angle": 15, "filled": true, "color": "black", "opacity": 1, "size": 45},
       "encoding": {"x": {"field": "t", "type": "quantitative"}, "y": {"field": "v", "type": "quantitative"}}},
      {"data": {"values": [{"t": 2.45, "v": 18, "lab": "η₁"}, {"t": 5.6, "v": 18.5, "lab": "η₃"}]}, "mark": {"type": "text", "align": "left", "baseline": "middle", "font": "DejaVu Serif", "fontSize": 15, "fontStyle": "italic"},
       "encoding": {"x": {"field": "t", "type": "quantitative"}, "y": {"field": "v", "type": "quantitative"}, "text": {"field": "lab"}}}
     ]}
   ], "spacing": -24, "bounds": "flush", "align": "none"},
  {"hconcat": [
    {"width": 1, "height": 1, "data": {"values": []}, "mark": "point", "view": {"stroke": null}},
    {"width": 436, "height": 46,
     "layer": [
      {"data": {"name": "etad"}, "mark": {"type": "line", "clip": true},
       "encoding": {"x": {"field": "t", "type": "quantitative", "scale": {"domain": [0, 20], "nice": false}, "axis": {"values": [0, 5, 10, 15, 20], "title": "t (s)", "labelPadding": 9, "titlePadding": 14}},
        "y": {"field": "v", "type": "quantitative", "scale": {"domain": [-10, 10], "nice": false, "zero": false}, "axis": {"values": [-10, 0, 10], "title": "η̇₁,η̇₃ ((°)/s)", "titlePadding": 0, "labelPadding": 3}},
        "color": {"field": "m", "type": "nominal", "scale": {"domain": ["1", "3"], "range": ["#000000", "#1f2ff0"]}, "legend": null},
        "strokeDash": {"field": "s", "type": "nominal", "scale": {"domain": ["E", "H", "F"], "range": [[1, 0], [6, 4], [7, 3, 1.5, 3]]}, "legend": {"title": null, "labelExpr": "{'E': 'Empty load', 'H': 'Half loads', 'F': 'Full loads'}[datum.label]"}}}},
      {"data": {"values": [{"t": 0.87, "v": 3.5, "t2": 1.65, "v2": 8.6}, {"t": 4.3, "v": 3.5, "t2": 5.5, "v2": 8.3}]}, "mark": {"type": "rule", "color": "black", "strokeWidth": 1},
       "encoding": {"x": {"field": "t", "type": "quantitative"}, "y": {"field": "v", "type": "quantitative"}, "x2": {"field": "t2"}, "y2": {"field": "v2"}}},
      {"data": {"values": [{"t": 1.6, "v": 8.2}]}, "mark": {"type": "point", "shape": "triangle-right", "angle": -36, "filled": true, "color": "black", "opacity": 1, "size": 45},
       "encoding": {"x": {"field": "t", "type": "quantitative"}, "y": {"field": "v", "type": "quantitative"}}},
      {"data": {"values": [{"t": 5.4, "v": 8.0}]}, "mark": {"type": "point", "shape": "triangle-right", "angle": -23, "filled": true, "color": "black", "opacity": 1, "size": 45},
       "encoding": {"x": {"field": "t", "type": "quantitative"}, "y": {"field": "v", "type": "quantitative"}}},
      {"data": {"values": [{"t": 1.85, "v": 8.2, "lab": "η̇₁"}, {"t": 5.75, "v": 8.2, "lab": "η̇₃"}]}, "mark": {"type": "text", "align": "left", "baseline": "middle", "font": "DejaVu Serif", "fontSize": 15, "fontStyle": "italic"},
       "encoding": {"x": {"field": "t", "type": "quantitative"}, "y": {"field": "v", "type": "quantitative"}, "text": {"field": "lab"}}}
     ]}
   ], "spacing": -24, "bounds": "flush", "align": "none"}
 ]
}
]
}
